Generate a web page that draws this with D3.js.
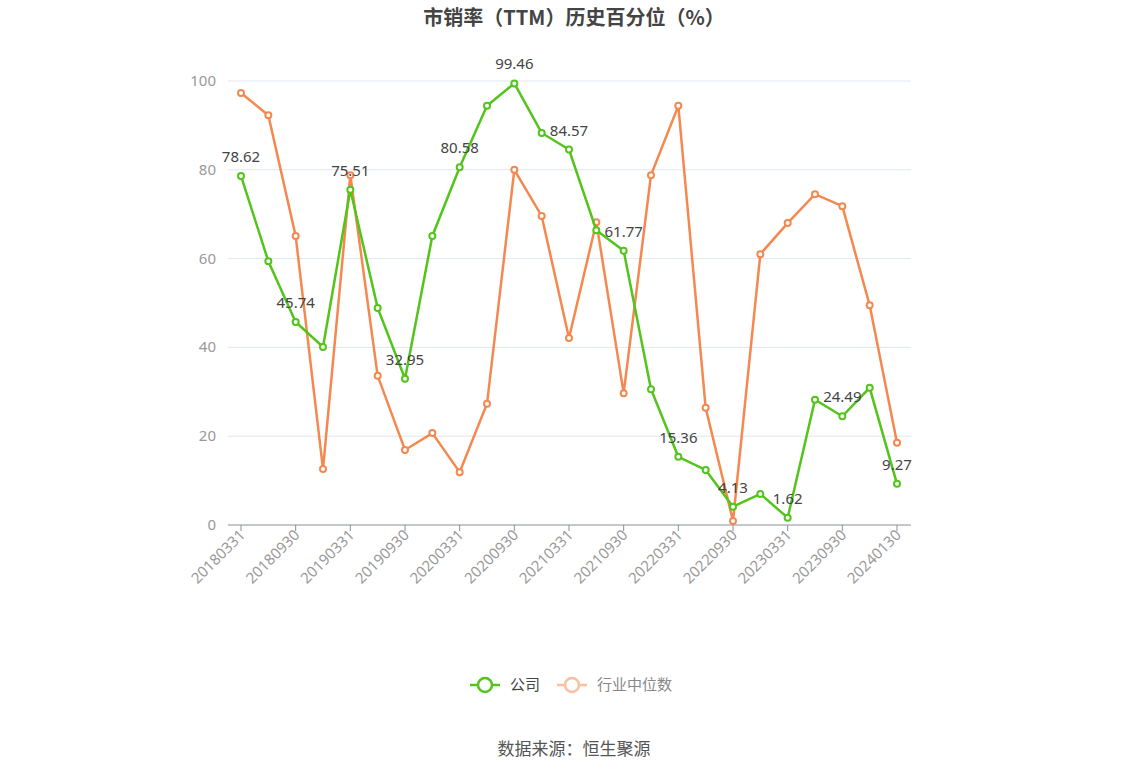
<!DOCTYPE html>
<html><head><meta charset="utf-8">
<script src="https://cdn.jsdelivr.net/npm/d3@7"></script>
<style>body{margin:0;background:#fff;font-family:"Noto Sans CJK SC","Noto Sans",sans-serif}</style>
</head><body><svg id="c" width="1148" height="776"></svg>
<script>
var dates = ["20180331","20180630","20180930","20181231","20190331","20190630","20190930","20191231",
  "20200331","20200630","20200930","20201231","20210331","20210630","20210930","20211231",
  "20220331","20220630","20220930","20221231","20230331","20230630","20230930","20231231","20240130"]
var company = [78.62,59.4,45.74,40.1,75.51,48.9,32.95,65.1,80.58,94.4,99.46,88.3,84.57,66.4,61.77,30.6,
  15.36,12.4,4.13,7.0,1.62,28.2,24.49,30.9,9.27]
var industry = [97.3,92.3,65.1,12.6,78.8,33.6,16.9,20.7,11.9,27.3,80.0,69.6,42.1,68.2,29.7,78.8,94.4,
  26.4,0.9,61.0,68.0,74.5,71.8,49.5,18.5]
var tickLabels = ["20180331","20180930","20190331","20190930","20200331","20200930","20210331",
  "20210930","20220331","20220930","20230331","20230930","20240130"]
var labelIdx = [0,2,4,6,8,10,12,14,16,18,20,22,24]

var svg = d3.select("#c")
var x = d3.scalePoint().domain(dates).range([241, 897])
var y = d3.scaleLinear().domain([0, 100]).range([525, 81])

svg.append("text").attr("x", 574).attr("y", 25).attr("text-anchor", "middle")
  .attr("font-size", 20).attr("font-weight", "bold").attr("fill", "#444")
  .text("市销率（TTM）历史百分位（%）")

svg.append("g").selectAll("line").data([20,40,60,80,100]).join("line")
  .attr("x1", 228).attr("x2", 911).attr("y1", y).attr("y2", y)
  .attr("stroke", "#e0e6f1")
svg.append("g").selectAll("text").data([0,20,40,60,80,100]).join("text")
  .attr("x", 216).attr("y", function(d) { return y(d) + 5 }).attr("text-anchor", "end")
  .attr("font-family", "Noto Sans").attr("font-size", 15).attr("fill", "#999").text(function(d) { return d })

svg.append("line").attr("x1", 228).attr("x2", 911).attr("y1", 525).attr("y2", 525).attr("stroke", "#8a8f99")
var ticked = tickLabels.map(function(t) { return dates.indexOf(t) })
svg.append("g").selectAll("line").data(ticked).join("line")
  .attr("x1", function(i) { return x(dates[i]) }).attr("x2", function(i) { return x(dates[i]) })
  .attr("y1", 525).attr("y2", 531).attr("stroke", "#8a8f99")
svg.append("g").selectAll("text").data(tickLabels).join("text")
  .attr("transform", function(d) { return "translate(" + (x(d) + 5) + ",536) rotate(-45)" })
  .attr("text-anchor", "end").attr("font-family", "Noto Sans").attr("font-size", 15)
  .attr("fill", "#999").text(function(d) { return d })

function series(vals, color) {
  var line = d3.line().x(function(d, i) { return x(dates[i]) }).y(function(d) { return y(d) })
  svg.append("path").datum(vals).attr("d", line).attr("fill", "none")
    .attr("stroke", color).attr("stroke-width", 2.5)
  svg.append("g").selectAll("circle").data(vals).join("circle")
    .attr("cx", function(d, i) { return x(dates[i]) }).attr("cy", function(d) { return y(d) })
    .attr("r", 3).attr("fill", "#fff").attr("stroke", color).attr("stroke-width", 2)
}
series(industry, "#f4884f")
series(company, "#52c41a")

svg.append("g").selectAll("text").data(labelIdx).join("text")
  .attr("x", function(i) { return x(dates[i]) }).attr("y", function(i) { return y(company[i]) - 14 })
  .attr("text-anchor", "middle").attr("font-family", "Noto Sans").attr("font-size", 15).attr("fill", "#444")
  .text(function(i) { return company[i] })

var legend = [["公司", "#52c41a", "#444", 470], ["行业中位数", "#f9bfa0", "#888", 557]]
legend.forEach(function(l) {
  svg.append("line").attr("x1", l[3]).attr("x2", l[3] + 30).attr("y1", 685).attr("y2", 685)
    .attr("stroke", l[1]).attr("stroke-width", 2.5)
  svg.append("circle").attr("cx", l[3] + 15).attr("cy", 685).attr("r", 7)
    .attr("fill", "#fff").attr("stroke", l[1]).attr("stroke-width", 2.5)
  svg.append("text").attr("x", l[3] + 40).attr("y", 690).attr("font-size", 15)
    .attr("fill", l[2]).text(l[0])
})

svg.append("text").attr("x", 574).attr("y", 755).attr("text-anchor", "middle")
  .attr("font-size", 17).attr("fill", "#555").text("数据来源：恒生聚源")
</script></body></html>
